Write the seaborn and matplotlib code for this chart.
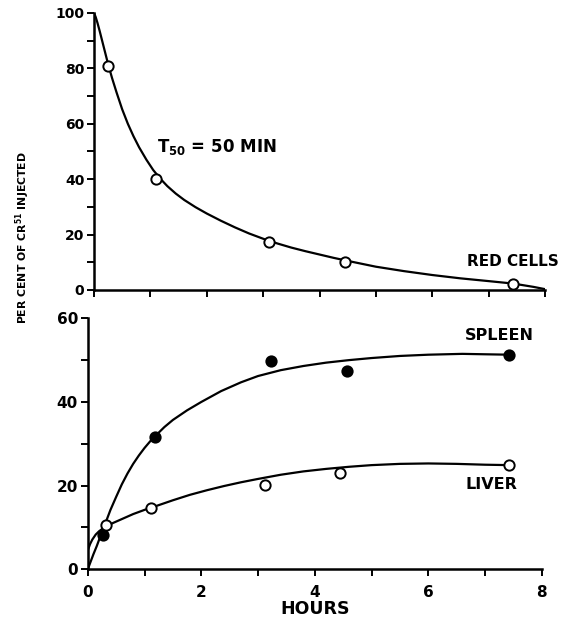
import numpy as np
import pandas as pd
import matplotlib
matplotlib.use("Agg")
import matplotlib.pyplot as plt
import seaborn as sns
from matplotlib.ticker import MultipleLocator

# measured points (hours, per cent of Cr51 injected)
red_hours = [0.25, 1.1, 3.1, 4.45, 7.44]
red_pct = [81, 40, 17.4, 10.2, 2.2]

spleen_hours = [0.27, 1.18, 3.22, 4.56, 7.43]
spleen_pct = [8.2, 31.6, 49.8, 47.3, 51.3]

liver_hours = [0.33, 1.12, 3.12, 4.45, 7.43]
liver_pct = [10.5, 14.6, 20.2, 23.1, 24.9]

# fitted curves
red_curve_h = [0, 0.03, 0.06, 0.1, 0.15, 0.2, 0.25, 0.32, 0.4, 0.5, 0.6,
               0.7, 0.8, 0.93, 1.05, 1.17, 1.3, 1.45, 1.6, 1.8, 2.0, 2.25,
               2.5, 2.75, 3.0, 3.25, 3.5, 3.75, 4.0, 4.25, 4.5, 5.0, 5.5,
               6.0, 6.5, 7.0, 7.44, 7.8, 8.0]
red_curve_p = [100, 98.5, 96.5, 93.5, 89.5, 85.5, 81.5, 76.5, 71.3, 65.2,
               60.0, 55.5, 51.5, 47.0, 43.3, 40.3, 37.5, 34.8, 32.5, 29.9,
               27.6, 25.0, 22.6, 20.4, 18.5, 16.8, 15.3, 14.0, 12.8, 11.6,
               10.5, 8.4, 6.8, 5.4, 4.2, 3.2, 2.3, 1.1, 0.3]

spleen_curve_h = [0, 0.05, 0.1, 0.16, 0.22, 0.28, 0.33, 0.4, 0.5, 0.6, 0.7,
                  0.8, 0.9, 1.0, 1.1, 1.2, 1.35, 1.5, 1.75, 2.0, 2.35, 2.7,
                  3.0, 3.4, 3.8, 4.2, 4.6, 5.0, 5.5, 6.0, 6.6, 7.0, 7.43]
spleen_curve_p = [0, 1.8, 3.6, 5.6, 7.8, 9.8, 11.7, 14.2, 17.3, 20.3, 22.9,
                  25.2, 27.2, 29.0, 30.6, 32.0, 34.0, 35.7, 38.0, 40.0, 42.6,
                  44.7, 46.2, 47.6, 48.6, 49.4, 50.0, 50.5, 51.0, 51.3, 51.5,
                  51.4, 51.3]

liver_curve_h = [0, 0.04, 0.08, 0.14, 0.2, 0.27, 0.33, 0.45, 0.6, 0.8, 1.0,
                 1.2, 1.5, 1.8, 2.1, 2.4, 2.7, 3.0, 3.4, 3.8, 4.2, 4.6, 5.0,
                 5.5, 6.0, 6.5, 7.0, 7.43]
liver_curve_p = [4.5, 6.0, 7.1, 8.3, 9.1, 9.8, 10.3, 11.1, 12.0, 13.2, 14.2,
                 15.1, 16.5, 17.8, 18.9, 19.9, 20.8, 21.6, 22.6, 23.4, 24.0,
                 24.5, 24.9, 25.2, 25.3, 25.2, 25.0, 24.9]

sns.set_theme(style="ticks")
plt.rcParams['font.family'] = ['DejaVu Sans']
plt.rcParams['mathtext.fontset'] = 'dejavusans'
plt.rcParams['text.color'] = 'black'
plt.rcParams['axes.labelcolor'] = 'black'
plt.rcParams['xtick.color'] = 'black'
plt.rcParams['ytick.color'] = 'black'

fig = plt.figure(figsize=(5.64, 6.2), dpi=100)
ax_top = fig.add_axes([0.1667, 0.5323, 0.7996, 0.4468])
ax_bot = fig.add_axes([0.1556, 0.0818, 0.8050, 0.4048])

LW = 1.6


def style_axis(ax, ymax, xlabels, lsize):
    ax.set_xlim(0, 8)
    ax.set_ylim(0, ymax)
    sns.despine(ax=ax)
    for s in ['left', 'bottom']:
        ax.spines[s].set_linewidth(1.8)
        ax.spines[s].set_color('black')
    ax.yaxis.set_major_locator(MultipleLocator(20))
    ax.yaxis.set_minor_locator(MultipleLocator(10))
    if xlabels:
        ax.xaxis.set_major_locator(MultipleLocator(2))
        ax.xaxis.set_minor_locator(MultipleLocator(1))
    else:
        ax.xaxis.set_major_locator(MultipleLocator(1))
        ax.set_xticklabels([])
    ax.tick_params(which='both', direction='out', length=5, width=1.4,
                   color='black', labelcolor='black', labelsize=lsize, pad=2)
    ax.tick_params(axis='x', pad=6)
    for lab in ax.get_xticklabels() + ax.get_yticklabels():
        lab.set_fontweight('bold')
    ax.set_xlabel('')
    ax.set_ylabel('')


# top panel: red cells
df_rc = pd.DataFrame({'h': red_curve_h, 'p': red_curve_p})
sns.lineplot(data=df_rc, x='h', y='p', ax=ax_top, color='black', lw=LW,
             estimator=None, sort=False)
df_rp = pd.DataFrame({'h': red_hours, 'p': red_pct})
sns.scatterplot(data=df_rp, x='h', y='p', ax=ax_top, s=55, color='white',
                edgecolor='black', linewidth=1.4, zorder=5)
style_axis(ax_top, 100, False, 10)
ax_top.text(1.12, 51.6, r'$\mathbf{T_{50}}$' + ' = 50 MIN', fontsize=12,
            fontweight='bold', ha='left', va='center')
ax_top.text(6.61, 10.1, 'RED CELLS', fontsize=11, fontweight='bold',
            ha='left', va='center')

# bottom panel: spleen and liver
df_sc = pd.DataFrame({'h': spleen_curve_h, 'p': spleen_curve_p})
df_lc = pd.DataFrame({'h': liver_curve_h, 'p': liver_curve_p})
sns.lineplot(data=df_sc, x='h', y='p', ax=ax_bot, color='black', lw=LW,
             estimator=None, sort=False)
sns.lineplot(data=df_lc, x='h', y='p', ax=ax_bot, color='black', lw=LW,
             estimator=None, sort=False)
df_sp = pd.DataFrame({'h': spleen_hours, 'p': spleen_pct})
df_lp = pd.DataFrame({'h': liver_hours, 'p': liver_pct})
sns.scatterplot(data=df_sp, x='h', y='p', ax=ax_bot, s=55, color='black',
                edgecolor='black', linewidth=1.4, zorder=5)
sns.scatterplot(data=df_lp, x='h', y='p', ax=ax_bot, s=55, color='white',
                edgecolor='black', linewidth=1.4, zorder=5)
style_axis(ax_bot, 60, True, 11)
ax_bot.text(6.65, 56, 'SPLEEN', fontsize=11.5, fontweight='bold',
            ha='left', va='center')
ax_bot.text(6.65, 20.2, 'LIVER', fontsize=11.5, fontweight='bold',
            ha='left', va='center')
ax_bot.set_xlabel('HOURS', fontsize=12.5, fontweight='bold', labelpad=0,
                  color='black')

fig.text(23 / 564, 1 - 238 / 620, r'PER CENT OF CR$^{\mathbf{51}}$ INJECTED',
         rotation=90, fontsize=7.8, fontweight='bold', ha='center',
         va='center')

fig.savefig('out.png', dpi=100, facecolor='white')
